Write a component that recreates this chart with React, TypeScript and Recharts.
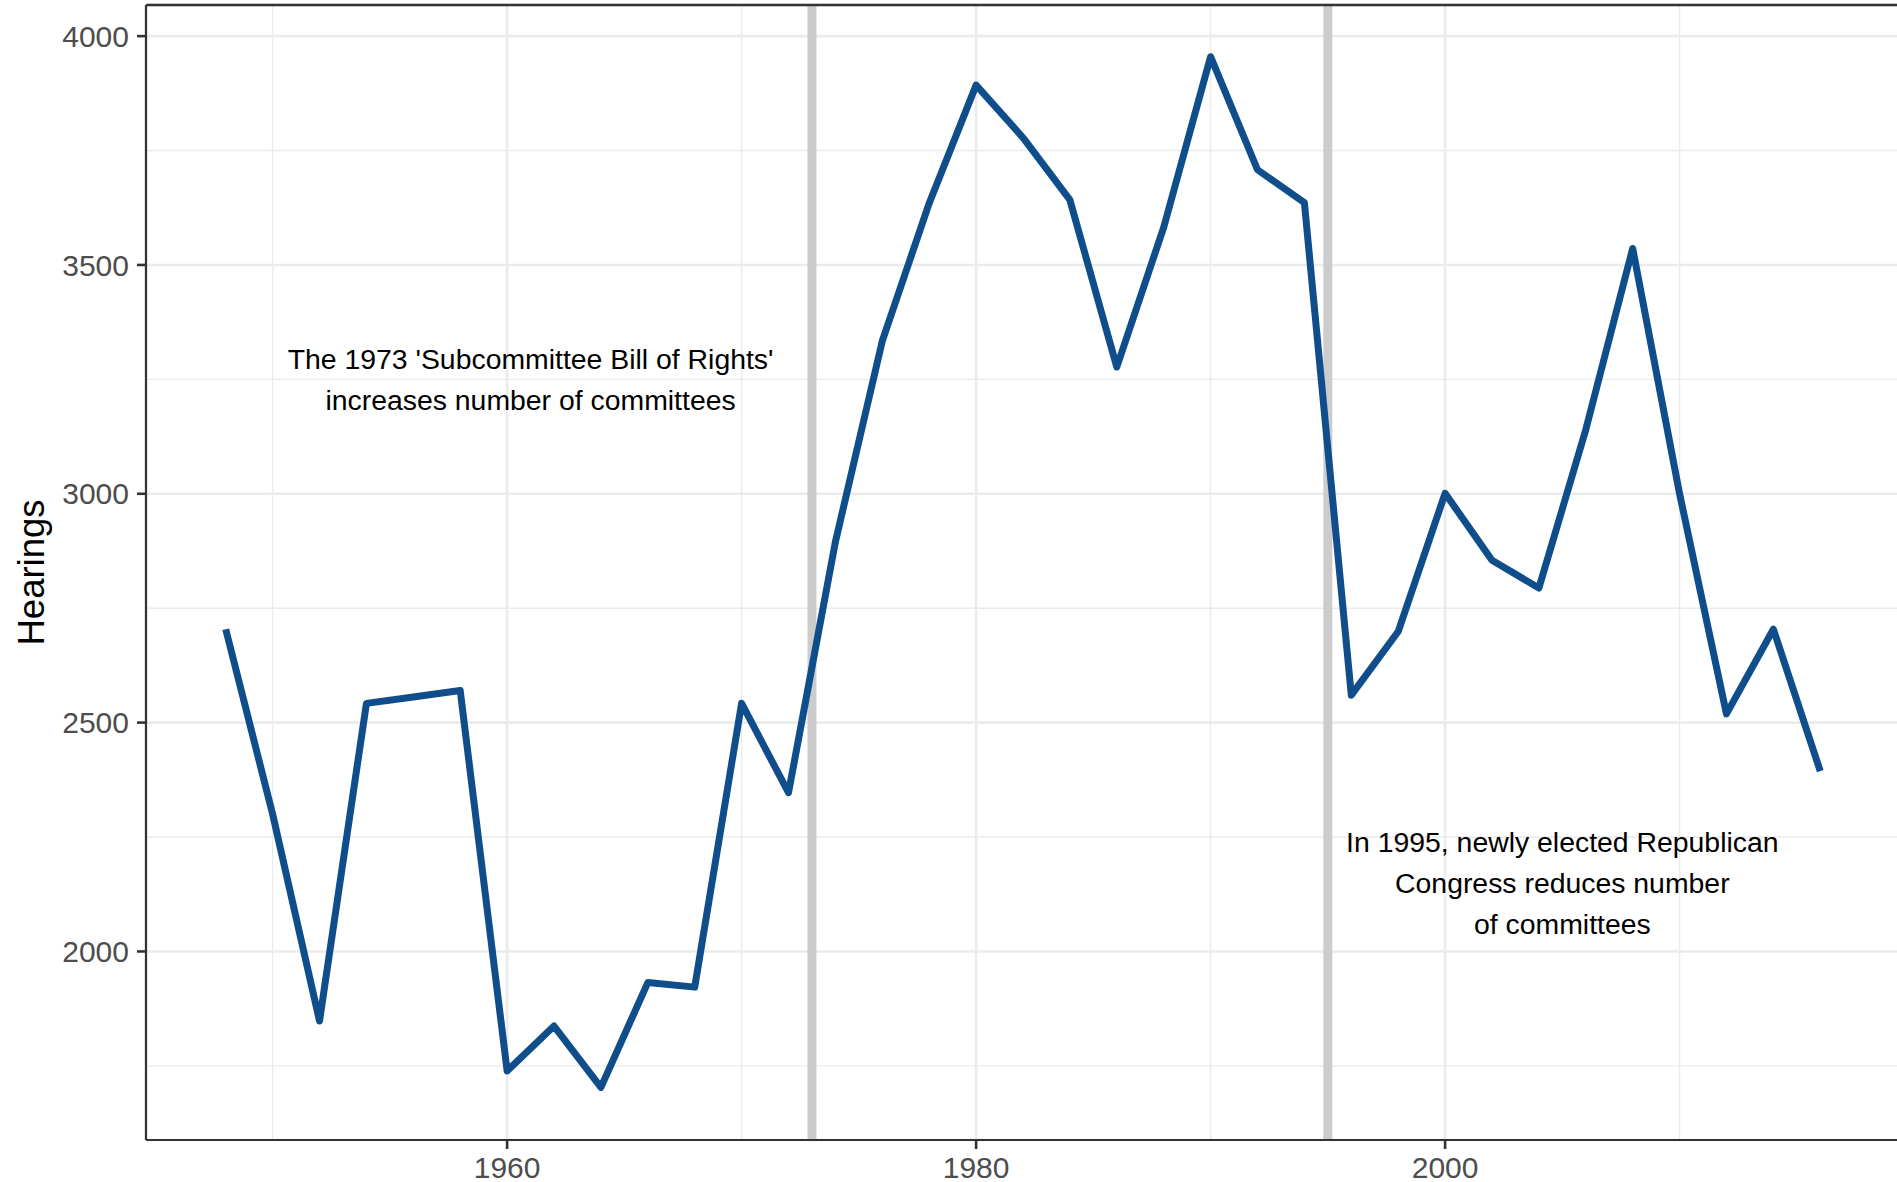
import React from 'react';
import { LineChart, Line, XAxis, YAxis, CartesianGrid, ReferenceLine, ReferenceDot } from 'recharts';

const years = [1948, 1950, 1952, 1954, 1956, 1958, 1960, 1962, 1964, 1966, 1968, 1970, 1972, 1974, 1976, 1978, 1980, 1982, 1984, 1986, 1988, 1990, 1992, 1994, 1996, 1998, 2000, 2002, 2004, 2006, 2008, 2010, 2012, 2014, 2016];
const hearings = [2704, 2300, 1848, 2542, 2556, 2570, 1739, 1837, 1703, 1932, 1922, 2542, 2347, 2895, 3334, 3635, 3893, 3778, 3642, 3277, 3582, 3955, 3708, 3636, 2560, 2699, 3001, 2855, 2794, 3140, 3536, 3000, 2519, 2704, 2394];

const xTicks = [1960, 1980, 2000];
const xMinor = [1950, 1970, 1990, 2010];
const yTicks = [2000, 2500, 3000, 3500, 4000];
const yMinor = [1750, 2250, 2750, 3250, 3750];
const eventYears = [1973, 1995];
const xDomain = [1944.6, 2019.4];
const yDomain = [1588, 4068];

const note1Lines = ["The 1973 'Subcommittee Bill of Rights'", 'increases number of committees'];
const note1Pos = { x: 1961, y: 3250 };
const note2Lines = ['In 1995, newly elected Republican', 'Congress reduces number', 'of committees'];
const note2Pos = { x: 2005, y: 2150 };

const data = years.map((y, i) => ({ year: y, value: hearings[i] }));

const FONT = '"Liberation Sans", Arial, sans-serif';

const makeNote = (lines: string[]) => (props: any) => {
  const vb = props.viewBox || {};
  const cx = (vb.x ?? 0) + (vb.width ?? 0) / 2;
  const cy = (vb.y ?? 0) + (vb.height ?? 0) / 2;
  const lh = 41;
  const n = lines.length;
  return (
    <text textAnchor="middle" fontFamily={FONT} fontSize={28.4} fill="#000000">
      {lines.map((l, i) => (
        <tspan key={i} x={cx} y={cy + (i - (n - 1) / 2) * lh + 10}>
          {l}
        </tspan>
      ))}
    </text>
  );
};

const yLabel = (props: any) => {
  const vb = props.viewBox || {};
  const cy = (vb.y ?? 0) + (vb.height ?? 0) / 2;
  const x = (vb.x ?? 0) + 44;
  return (
    <text x={x} y={cy} transform={`rotate(-90, ${x}, ${cy})`} textAnchor="middle" fontFamily={FONT} fontSize={36.5} fill="#000000">
      Hearings
    </text>
  );
};

export default function App() {
  return (
    <div style={{ position: 'absolute', left: 0, top: 0, width: 1897, height: 1182, overflow: 'hidden', background: '#ffffff', fontFamily: FONT }}>
      <LineChart width={1900} height={1182} data={data} margin={{ top: 5, right: 0, bottom: 0, left: 0 }}>
        <CartesianGrid stroke="#EBEBEB" strokeWidth={2.6} />
        {xMinor.map((v) => (
          <ReferenceLine key={'xm' + v} x={v} stroke="#EBEBEB" strokeWidth={1.4} />
        ))}
        {yMinor.map((v) => (
          <ReferenceLine key={'ym' + v} y={v} stroke="#EBEBEB" strokeWidth={1.4} />
        ))}
        {eventYears.map((v) => (
          <ReferenceLine key={'ev' + v} x={v} stroke="#CCCCCC" strokeWidth={9} />
        ))}
        <ReferenceLine y={yDomain[1]} stroke="#333333" strokeWidth={2.4} ifOverflow="visible" />
        <XAxis
          dataKey="year"
          type="number"
          domain={xDomain}
          ticks={xTicks}
          allowDataOverflow
          height={42}
          tickSize={9}
          tickMargin={8}
          axisLine={{ stroke: '#333333', strokeWidth: 2.2 }}
          tickLine={{ stroke: '#333333', strokeWidth: 2.6 }}
          tick={{ fill: '#4D4D4D', fontSize: 30, fontFamily: FONT }}
        />
        <YAxis
          type="number"
          domain={yDomain}
          ticks={yTicks}
          allowDataOverflow
          width={146}
          tickSize={9}
          tickMargin={8}
          axisLine={{ stroke: '#333333', strokeWidth: 2.2 }}
          tickLine={{ stroke: '#333333', strokeWidth: 2.6 }}
          tick={{ fill: '#4D4D4D', fontSize: 30, fontFamily: FONT }}
          label={yLabel}
        />
        <Line
          type="linear"
          dataKey="value"
          stroke="#104E8B"
          strokeWidth={7}
          dot={false}
          activeDot={false}
          strokeLinejoin="round"
          strokeLinecap="butt"
          isAnimationActive={false}
        />
        <ReferenceDot x={note1Pos.x} y={note1Pos.y} r={1} fill="none" stroke="none" label={makeNote(note1Lines)} />
        <ReferenceDot x={note2Pos.x} y={note2Pos.y} r={1} fill="none" stroke="none" label={makeNote(note2Lines)} />
      </LineChart>
    </div>
  );
}
